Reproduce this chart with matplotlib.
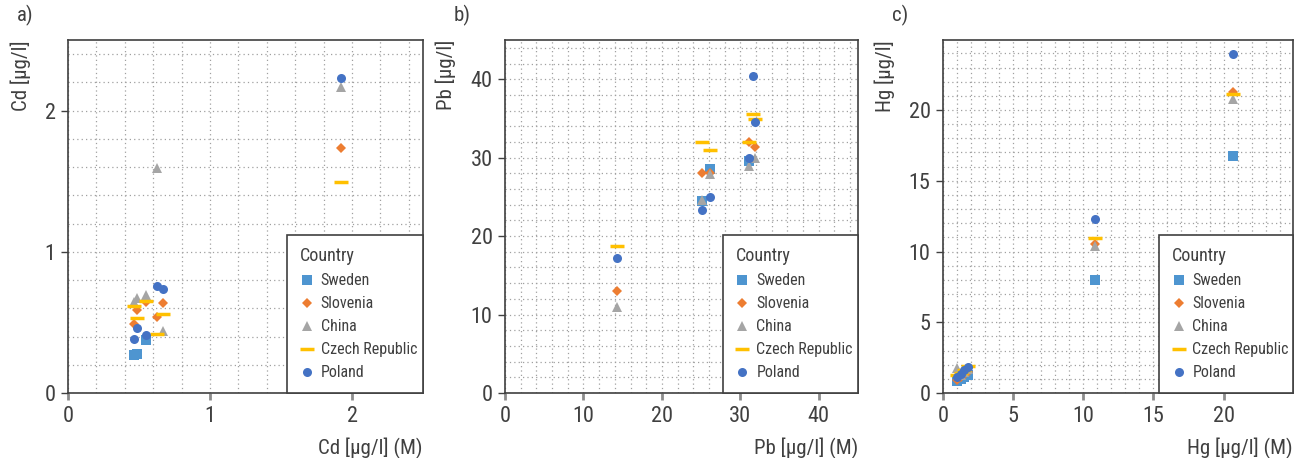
import numpy as np
import matplotlib
matplotlib.use("Agg")
import matplotlib.pyplot as plt
from matplotlib import font_manager
from matplotlib.ticker import MultipleLocator


# the original uses a condensed face; take the narrowest one that is installed
installed = font_manager.fontManager.ttflist
names = {f.name for f in installed}
family = "Liberation Sans"
stretch = "normal"
for cand in ["Liberation Sans Narrow", "Roboto Condensed", "Open Sans Condensed", "Noto Sans Condensed"]:
    if cand in names:
        family = cand
        break
else:
    for f in installed:
        if f.stretch in ("condensed", "semi-condensed") and f.name in ("Noto Sans", "DejaVu Sans", "Open Sans", "Roboto"):
            family, stretch = f.name, f.stretch
            break

plt.rcParams["font.family"] = [family, "DejaVu Sans"]
plt.rcParams["font.stretch"] = stretch
plt.rcParams["text.color"] = "#404040"
plt.rcParams["axes.labelcolor"] = "#404040"
plt.rcParams["xtick.color"] = "#404040"
plt.rcParams["ytick.color"] = "#404040"

nan = np.nan

countries = ["Sweden", "Slovenia", "China", "Czech Republic", "Poland"]

# Cd: sample means (M) and value per country
cd_m = [0.465, 0.488, 0.548, 0.625, 0.668, 1.92]
cd_sweden = [0.268, 0.275, 0.375, nan, nan, nan]
cd_slovenia = [0.49, 0.59, 0.645, 0.535, 0.638, 1.735]
cd_china = [0.645, 0.67, 0.693, 1.59, 0.438, 2.165]
cd_czech = [0.615, 0.528, 0.65, 0.417, 0.556, 1.496]
cd_poland = [0.38, 0.457, 0.408, 0.756, 0.735, 2.23]

# Pb
pb_m = [14.3, 25.1, 26.1, 31.1, 31.6, 31.9]
pb_sweden = [nan, 24.5, 28.6, 29.6, nan, nan]
pb_slovenia = [12.95, 28.0, 28.0, 32.0, nan, 31.4]
pb_china = [11.0, 24.6, 27.9, 28.9, nan, 30.0]
pb_czech = [18.8, 32.0, 31.0, 32.05, 35.6, 34.9]
pb_poland = [17.15, 23.3, 25.0, 30.0, 40.4, 34.6]

# Hg
hg_m = [1.0, 1.25, 1.5, 1.75, 10.84, 20.7]
hg_sweden = [0.85, 1.0, 1.1, 1.3, 8.01, 16.76]
hg_slovenia = [0.95, 1.1, 1.3, 1.5, 10.5, 21.3]
hg_china = [1.8, 1.3, 1.5, 1.7, 10.38, 20.8]
hg_czech = [1.25, 1.4, 1.6, 1.9, 10.97, 21.1]
hg_poland = [1.1, 1.35, 1.6, 1.85, 12.3, 23.97]

STYLES = {
    "Sweden": dict(marker="s", color="#4e95d0", ms=6.5),
    "Slovenia": dict(marker="D", color="#ed7d31", ms=5),
    "China": dict(marker="^", color="#a5a5a5", ms=6.5),
    "Czech Republic": dict(marker="_", color="#ffc000", ms=10, mew=2.5),
    "Poland": dict(marker="o", color="#4472c4", ms=6.5),
}


def draw_panel(ax, m, series, lim, minor, major, name, letter):
    for country, vals in zip(countries, series):
        st = STYLES[country]
        ax.plot(m, vals, linestyle="none", marker=st["marker"], color=st["color"],
                markersize=st["ms"], markeredgewidth=st.get("mew", 0),
                label=country)

    ax.set_xlim(0, lim)
    ax.set_ylim(0, lim)
    ax.xaxis.set_major_locator(MultipleLocator(major))
    ax.yaxis.set_major_locator(MultipleLocator(major))
    ax.xaxis.set_minor_locator(MultipleLocator(minor))
    ax.yaxis.set_minor_locator(MultipleLocator(minor))
    ax.grid(which="both", linestyle=(0, (1, 2.5)), color="#a0a0a0", linewidth=0.9)
    ax.set_axisbelow(True)

    for sp in ax.spines.values():
        sp.set_color("#404040")
        sp.set_linewidth(1.2)

    ax.tick_params(which="minor", length=0)
    ax.tick_params(axis="y", which="major", length=5, width=1, labelsize=16, pad=4)
    ax.tick_params(axis="x", which="major", length=5, width=2, color="#8c8c8c",
                   labelsize=16, pad=4)

    ax.set_xlabel(name + " [µg/l] (M)", loc="right", fontsize=15, labelpad=8)
    ax.set_ylabel(name + " [µg/l]", loc="top", fontsize=15, labelpad=10)

    # legend box: fixed width at the lower right corner, as in the original
    leg = ax.legend(title="Country", loc="lower left", bbox_to_anchor=(0.617, 0, 0.383, 1),
                    mode="expand", fontsize=11.5, title_fontsize=13,
                    fancybox=False, borderaxespad=0, framealpha=1,
                    handlelength=0.85, handletextpad=0.45, labelspacing=0.5,
                    borderpad=0.8)
    leg.get_frame().set_edgecolor("#404040")
    leg.get_frame().set_linewidth(1.2)
    leg._legend_box.align = "left"

    ax.text(-0.145, 1.07, letter, transform=ax.transAxes, fontsize=15,
            ha="left", va="center")


fig = plt.figure(figsize=(13.06, 4.58), dpi=100)

ax_a = fig.add_axes([68 / 1306, 65 / 458, 355 / 1306, 353 / 458])
ax_b = fig.add_axes([505 / 1306, 65 / 458, 353 / 1306, 353 / 458])
ax_c = fig.add_axes([943 / 1306, 65 / 458, 350 / 1306, 353 / 458])

draw_panel(ax_a, cd_m, [cd_sweden, cd_slovenia, cd_china, cd_czech, cd_poland],
           2.5, 0.2, 1, "Cd", "a)")
draw_panel(ax_b, pb_m, [pb_sweden, pb_slovenia, pb_china, pb_czech, pb_poland],
           45, 2, 10, "Pb", "b)")
# 25 itself carries no label in the original
draw_panel(ax_c, hg_m, [hg_sweden, hg_slovenia, hg_china, hg_czech, hg_poland],
           24.95, 1, 5, "Hg", "c)")

fig.savefig("out.png", dpi=100)
